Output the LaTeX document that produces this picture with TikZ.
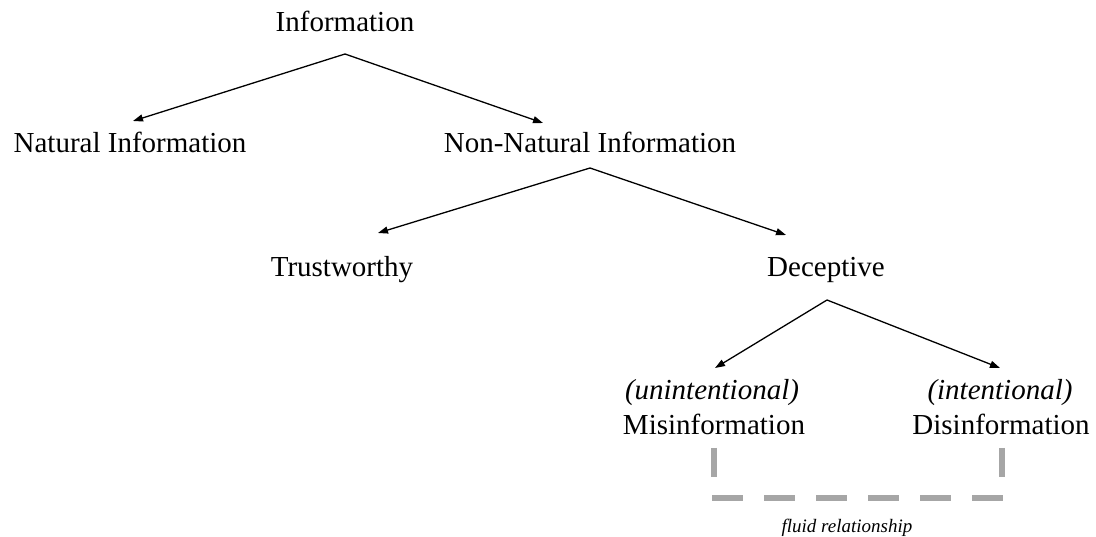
\documentclass[tikz,border=0pt]{standalone}
\usepackage{fontspec}
\setmainfont{Liberation Serif}
\usetikzlibrary{arrows.meta,calc}
\definecolor{bracketgray}{HTML}{A6A6A6}
\begin{document}
\begin{tikzpicture}[x=1pt,y=-1pt,
  lbl/.style={anchor=base,inner sep=0pt,outer sep=0pt,font=\fontsize{29}{34}\selectfont},
  ilbl/.style={lbl,font=\fontsize{29}{34}\selectfont\itshape},
  note/.style={anchor=base,inner sep=0pt,font=\fontsize{19}{22}\selectfont\itshape},
  arr/.style={line width=1.3pt,-{Triangle[length=10pt,width=7pt]}},
  fluid/.style={line width=6.5pt,bracketgray},
]
\useasboundingbox[fill=white] (0,0) rectangle (1096,537);
\node[lbl] (info) at (345,32) {Information};
\node[lbl] (nat) at (130,153) {Natural Information};
\node[lbl] (nonnat) at (590,153) {Non-Natural Information};
\node[lbl] (trust) at (342,277) {Trustworthy};
\node[lbl] (dec) at (826,277) {Deceptive};
\node[ilbl] (unint) at (712,400) {(unintentional)};
\node[lbl] (mis) at (714,435) {Misinformation};
\node[ilbl] (intent) at (1000,400) {(intentional)};
\node[lbl] (dis) at (1001,435) {Disinformation};
\node[note] (rel) at (847,532) {fluid relationship};

\draw[arr] ($(info.base)+(0,22)$) -- ($(nat.base)+(3,-32)$);
\draw[arr] ($(info.base)+(0,22)$) -- ($(nonnat.base)+(-47,-30)$);
\draw[arr] ($(nonnat.base)+(0,15)$) -- ($(trust.base)+(36,-44)$);
\draw[arr] ($(nonnat.base)+(0,15)$) -- ($(dec.base)+(-40,-42)$);
\draw[arr] ($(dec.base)+(1,23)$) -- ($(unint.base)+(3,-32)$);
\draw[arr] ($(dec.base)+(1,23)$) -- ($(intent.base)+(0,-32)$);

\draw[fluid] ($(mis.base)+(0,13)$) -- ($(mis.base)+(0,42)$);
\draw[fluid] ($(dis.base)+(1,13)$) -- ($(dis.base)+(1,42)$);
\draw[fluid,dash pattern=on 31pt off 21pt] ($(mis.base)+(-2,63)$) -- ($(dis.base)+(4,63)$);
\end{tikzpicture}
\end{document}
